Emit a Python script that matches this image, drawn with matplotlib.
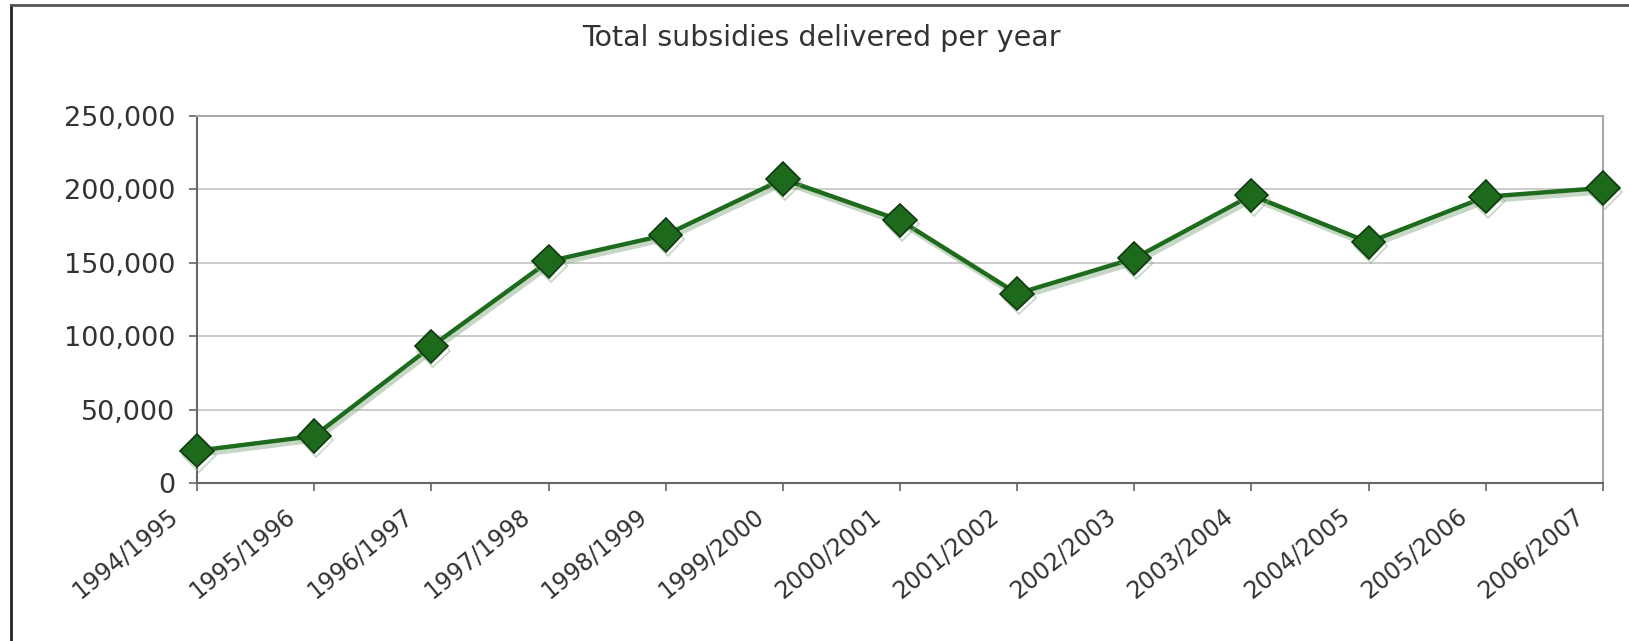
import matplotlib
matplotlib.use("Agg")
import matplotlib.pyplot as plt
import matplotlib.patheffects as pe
from matplotlib.ticker import FuncFormatter

YEARS = [
    "1994/1995", "1995/1996", "1996/1997", "1997/1998", "1998/1999",
    "1999/2000", "2000/2001", "2001/2002", "2002/2003", "2003/2004",
    "2004/2005", "2005/2006", "2006/2007",
]
SUBSIDIES = [
    22000, 32000, 93000, 151000, 169000, 207000, 179000,
    129000, 153000, 196000, 164000, 195000, 201000,
]
Y_TICKS = [0, 50000, 100000, 150000, 200000, 250000]
TITLE = "Total subsidies delivered per year"

GREEN = "#1e6b1e"
TEXT = "#333333"


def main() -> int:
    fig = plt.figure(figsize=(16.29, 6.41), dpi=100)
    ax = fig.add_axes([0.121, 0.2465, 0.863, 0.5725])

    # outer frame of the original screenshot (left and top edges only)
    fig.add_artist(plt.Line2D([0.0065, 0.0065], [0.0, 0.992], transform=fig.transFigure,
                              color="#222222", lw=2.0))
    fig.add_artist(plt.Line2D([0.0065, 1.0], [0.992, 0.992], transform=fig.transFigure,
                              color="#555555", lw=2.0))

    x = list(range(len(YEARS)))
    ax.plot(
        x, SUBSIDIES,
        color=GREEN, lw=3.2, marker="D", markersize=17,
        markerfacecolor="#1d6a1d", markeredgecolor="#0f3a0f", markeredgewidth=1.2,
        path_effects=[pe.SimpleLineShadow(offset=(1.5, -3), shadow_color="#8fb08f", alpha=0.5),
                      pe.Normal()],
        clip_on=False, zorder=5,
    )

    ax.set_xlim(0, len(YEARS) - 1)
    ax.set_ylim(0, 250000)
    ax.set_yticks(Y_TICKS)
    ax.yaxis.set_major_formatter(FuncFormatter(lambda v, _: f"{int(v):,}"))
    ax.set_xticks(x)
    ax.set_xticklabels([])
    # category labels sit below and left of their ticks, as in the original
    for i, year in enumerate(YEARS):
        ax.annotate(year, xy=(i, 0), xycoords=("data", "axes fraction"),
                    xytext=(-22, -30), textcoords="offset pixels",
                    rotation=39, ha="right", va="center", rotation_mode="anchor",
                    fontsize=17, color=TEXT, annotation_clip=False)

    ax.grid(axis="y", color="#c8c8c8", lw=1.3)
    ax.set_axisbelow(True)
    for side in ("left", "bottom"):
        ax.spines[side].set_color("#666666")
        ax.spines[side].set_linewidth(1.5)
    for side in ("top", "right"):
        ax.spines[side].set_color("#aaaaaa")
        ax.spines[side].set_linewidth(1.5)

    ax.tick_params(axis="both", colors="#666666", labelcolor=TEXT,
                   length=6, width=1.2)
    ax.tick_params(axis="y", labelsize=19.5, pad=10)

    fig.text(0.504, 0.94, TITLE, ha="center", va="center", fontsize=20.5, color=TEXT)

    fig.savefig("out.png", dpi=100, facecolor="white")
    plt.close(fig)
    return 0


if __name__ == "__main__":
    raise SystemExit(main())
